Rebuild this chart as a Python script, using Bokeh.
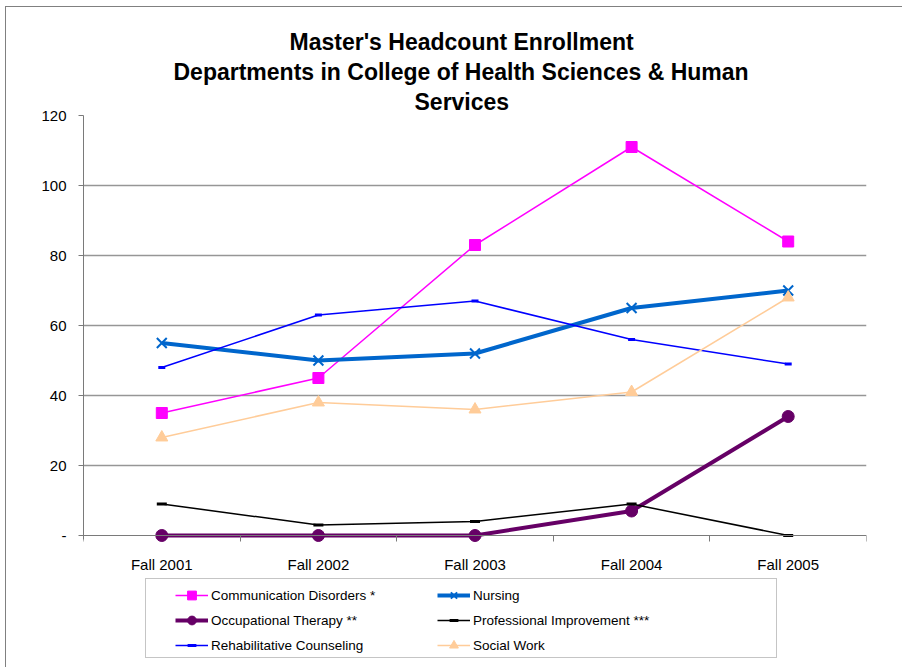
from bokeh.plotting import figure
from bokeh.models import (Range1d, FixedTicker, LinearAxis, Title, Legend,
                          LegendItem, Grid)
from bokeh.embed import file_html
from bokeh.resources import INLINE

# ---------------- data ----------------
categories = ["Fall 2001", "Fall 2002", "Fall 2003", "Fall 2004", "Fall 2005"]
communication_disorders = [35, 45, 83, 111, 84]
nursing = [55, 50, 52, 65, 70]
occupational_therapy = [0, 0, 0, 7, 34]
professional_improvement = [9, 3, 4, 9, 0]
rehabilitative_counseling = [48, 63, 67, 56, 49]
social_work = [28, 38, 36, 41, 68]

y_ticks = [0, 20, 40, 60, 80, 100, 120]
y_tick_labels = ["-", "20", "40", "60", "80", "100", "120"]

title_lines = ["Master's Headcount Enrollment",
               "Departments in College of Health Sciences & Human",
               "Services"]
series_names = ["Communication Disorders *", "Nursing",
                "Occupational Therapy **", "Professional Improvement ***",
                "Rehabilitative Counseling", "Social Work"]

FONT = "Liberation Sans"
x = list(range(1, len(categories) + 1))

# The frame is stretched below zero so that the category labels and the
# legend lie inside it (nothing gets clipped); the value axis is bounded.
Y_MIN = -38

p = figure(width=897, height=661, output_backend="svg", toolbar_location=None,
           x_range=Range1d(0.5, len(categories) + 0.5),
           y_range=Range1d(Y_MIN, 120),
           x_axis_type=None, y_axis_type=None,
           min_border_left=77, min_border_right=37,
           min_border_top=108, min_border_bottom=0,
           styles={"margin-left": "5px", "margin-top": "6px",
                   "border-top": "1px solid #808080",
                   "border-left": "1px solid #808080"})
p.outline_line_color = None
p.background_fill_color = "white"
p.border_fill_color = "white"

# grid lines
p.add_layout(Grid(dimension=1, ticker=FixedTicker(ticks=y_ticks[-1:]),
                  grid_line_color="#e6e6e6", grid_line_width=2))
p.add_layout(Grid(dimension=1, ticker=FixedTicker(ticks=y_ticks[1:-1]),
                  grid_line_color="#969696", grid_line_width=1.5))

# y axis
yaxis = LinearAxis(ticker=FixedTicker(ticks=y_ticks), bounds=(-1.2, 120),
                   major_label_overrides=dict(zip(y_ticks, y_tick_labels)))
yaxis.axis_line_color = "#7a7a7a"
yaxis.major_tick_line_color = "#7a7a7a"
yaxis.major_tick_out = 5
yaxis.major_tick_in = 0
yaxis.minor_tick_line_color = None
yaxis.major_label_standoff = 12
yaxis.major_label_text_font = FONT
yaxis.major_label_text_font_size = "15px"
yaxis.major_label_text_color = "black"
p.add_layout(yaxis, "left")

# x axis (category labels at centers, tick marks between categories)
xaxis = LinearAxis(ticker=FixedTicker(ticks=x,
                                      minor_ticks=[i + 0.5 for i in range(len(categories) + 1)]),
                   major_label_overrides={xi: c for xi, c in zip(x, categories)},
                   fixed_location=0)
xaxis.axis_line_color = "#7a7a7a"
xaxis.major_tick_line_color = None
xaxis.major_tick_out = 0
xaxis.major_tick_in = 0
xaxis.minor_tick_line_color = "#7a7a7a"
xaxis.minor_tick_out = 6
xaxis.minor_tick_in = 0
xaxis.major_label_standoff = 14
xaxis.major_label_text_font = FONT
xaxis.major_label_text_font_size = "15px"
xaxis.major_label_text_font_style = "normal"
xaxis.major_label_text_color = "black"
p.add_layout(xaxis, "below")

# series
cd_l = p.line(x, communication_disorders, line_color="#FF00FF", line_width=1.5)
cd_m = p.scatter(x, communication_disorders, marker="square", size=11,
                 fill_color="#FF00FF", line_color="#FF00FF")
nu_l = p.line(x, nursing, line_color="#0066CC", line_width=4)
nu_m = p.scatter(x, nursing, marker="x", size=14, line_color="#0066CC",
                 line_width=2)
ot_l = p.line(x, occupational_therapy, line_color="#660066", line_width=4)
ot_m = p.scatter(x, occupational_therapy, marker="circle", size=12,
                 fill_color="#660066", line_color="#660066")
pi_l = p.line(x, professional_improvement, line_color="black", line_width=1.5)
pi_m = p.scatter(x, professional_improvement, marker="dash", size=10,
                 line_color="black", line_width=3)
rc_l = p.line(x, rehabilitative_counseling, line_color="#0000FF", line_width=1.5)
rc_m = p.scatter(x, rehabilitative_counseling, marker="dash", size=7,
                 line_color="#0000FF", line_width=3)
sw_l = p.line(x, social_work, line_color="#FFCC99", line_width=1.5)
sw_m = p.scatter(x, social_work, marker="triangle", size=12,
                 fill_color="#FFCC99", line_color="#FFCC99")

pairs = [(cd_l, cd_m), (nu_l, nu_m), (ot_l, ot_m), (pi_l, pi_m),
         (rc_l, rc_m), (sw_l, sw_m)]

# legend frame (box only)
dummy = p.line(x=[], y=[], line_alpha=0)
box = Legend(items=[LegendItem(label=" ", renderers=[dummy])],
             location=(62, 10), padding=0, margin=0, spacing=0,
             glyph_width=1, glyph_height=78, label_width=629, label_height=78,
             label_standoff=0, border_line_color="#8c8c8c", border_line_width=1,
             background_fill_color="white", background_fill_alpha=1)
p.add_layout(box, "center")

def make_legend(idx, loc):
    items = [LegendItem(label=series_names[i], renderers=list(pairs[i])) for i in idx]
    return Legend(items=items, location=loc, padding=0, margin=0, spacing=3,
                  glyph_width=33, glyph_height=22, label_height=22,
                  label_standoff=3, border_line_color=None,
                  background_fill_alpha=0, label_text_font=FONT,
                  label_text_font_size="13.5px", label_text_color="black")

p.add_layout(make_legend([0, 2, 4], (92, 12)), "center")
p.add_layout(make_legend([1, 3, 5], (354, 12)), "center")

# title lines, left-anchored so that each is centred near x = 461 px
title_offsets = [206, 90, 331]
for line, off in reversed(list(zip(title_lines, title_offsets))):
    p.add_layout(Title(text=line, align="left", offset=off, text_font=FONT,
                       text_font_size="23px", text_font_style="bold",
                       text_color="black", standoff=1.5), "above")

open("out.html", "w").write(file_html(p, INLINE))
